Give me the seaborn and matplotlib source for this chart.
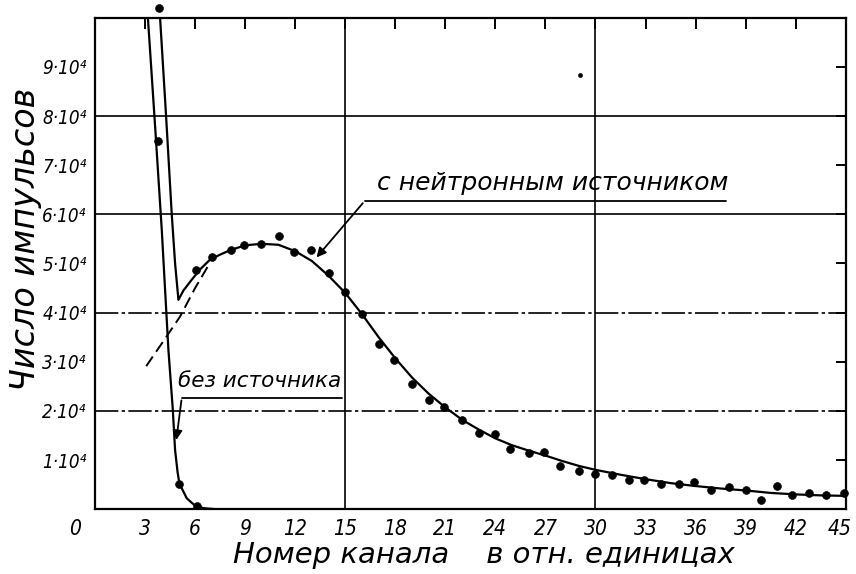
import matplotlib
matplotlib.use("Agg")
import matplotlib.pyplot as plt
import matplotlib.transforms as mtransforms
import seaborn as sns
import pandas as pd

# measured points, "с нейтронным источником" (y in units of 10^4 counts)
src_x = [3.84, 6.05, 7.01, 8.13, 8.94, 9.94, 11.0, 11.9, 12.97, 14.0, 15.0, 16.0, 17.0,
         17.95, 19.0, 20.0, 20.9, 22.0, 23.0, 24.0, 24.9, 26.0, 26.9, 27.9, 29.0, 30.0,
         31.0, 32.0, 32.9, 33.9, 35.0, 35.9, 36.9, 38.0, 39.0, 39.9, 40.9, 41.8, 42.8,
         43.8, 44.9]
src_y = [10.2, 4.86, 5.14, 5.28, 5.37, 5.40, 5.55, 5.23, 5.28, 4.80, 4.41, 3.97, 3.36,
         3.03, 2.54, 2.22, 2.07, 1.81, 1.55, 1.52, 1.23, 1.14, 1.16, 0.88, 0.77, 0.72,
         0.69, 0.60, 0.60, 0.52, 0.52, 0.55, 0.38, 0.46, 0.38, 0.19, 0.47, 0.28, 0.33,
         0.28, 0.33]

# drawn curve through them
src_curve_x = [3.9, 4.26, 4.6, 4.8, 5.0, 5.3, 5.8, 6.3, 6.9, 7.5, 8.1, 9.0, 10.0, 11.0,
               12.0, 13.0, 14.0, 15.0, 16.0, 17.0, 18.0, 19.0, 20.0, 21.0, 22.0, 23.0,
               24.0, 25.0, 26.0, 27.0, 28.0, 29.0, 30.0, 31.5, 33.0, 34.5, 36.0, 37.5,
               39.0, 40.5, 42.0, 43.5, 45.0]
src_curve_y = [10.0, 8.0, 6.0, 5.0, 4.26, 4.45, 4.67, 4.88, 5.08, 5.18, 5.27, 5.37, 5.40,
               5.38, 5.25, 5.05, 4.75, 4.40, 3.97, 3.50, 3.07, 2.68, 2.35, 2.07, 1.82,
               1.62, 1.44, 1.30, 1.19, 1.09, 0.98, 0.88, 0.80, 0.70, 0.61, 0.53, 0.47,
               0.42, 0.38, 0.33, 0.30, 0.28, 0.27]

# dashed extrapolation of the peak to the left
dash_x = [3.07, 4.08, 5.10, 6.0, 6.4, 6.9]
dash_y = [2.91, 3.41, 3.92, 4.50, 4.73, 5.02]

# "без источника"
bg_x = [3.78, 5.06, 6.1]
bg_y = [7.49, 0.52, 0.07]
bg_curve_x = [3.17, 3.6, 4.0, 4.4, 4.66, 4.80, 4.95, 5.06, 5.5, 6.0, 6.5, 7.2]
bg_curve_y = [10.0, 7.8, 5.69, 3.24, 2.04, 1.20, 0.75, 0.52, 0.22, 0.07, 0.02, 0.0]

# stray speck on the scan
speck_x = [29.1]
speck_y = [8.83]

SCALE = 1e4
xticks = list(range(0, 46, 3))
yticks = [i * SCALE for i in range(1, 10)]
ytick_labels = [f"{i}·10⁴" for i in range(1, 10)]

sns.set_style("white")
plt.rcParams["font.family"] = ["DejaVu Sans"]
plt.rcParams["font.style"] = "italic"
plt.rcParams["text.color"] = "black"
plt.rcParams["axes.labelcolor"] = "black"
plt.rcParams["xtick.color"] = "black"
plt.rcParams["ytick.color"] = "black"

fig = plt.figure(figsize=(8.56, 5.74), dpi=100)
ax = fig.add_axes([0.111, 0.113, 0.877, 0.856])

# grid lines of the paper
for yv, ls in [(2, (0, (14, 2, 2, 2))), (4, (0, (14, 2, 2, 2))), (6, "-"), (8, "-")]:
    ax.axhline(yv * SCALE, color="black", lw=1.2, ls=ls, zorder=1)
for xv in [15, 30]:
    ax.axvline(xv, color="black", lw=1.2, zorder=1)

src_curve = pd.DataFrame({"x": src_curve_x, "y": [v * SCALE for v in src_curve_y]})
bg_curve = pd.DataFrame({"x": bg_curve_x, "y": [v * SCALE for v in bg_curve_y]})
dash = pd.DataFrame({"x": dash_x, "y": [v * SCALE for v in dash_y]})

sns.lineplot(data=src_curve, x="x", y="y", color="black", lw=1.6, ax=ax, sort=False)
sns.lineplot(data=bg_curve, x="x", y="y", color="black", lw=1.6, ax=ax, sort=False)
ax.plot(dash["x"], dash["y"], color="black", lw=1.4, ls=(0, (6, 3)))

sns.scatterplot(x=src_x, y=[v * SCALE for v in src_y], color="black", s=32,
                edgecolor="black", ax=ax, zorder=5, clip_on=False)
sns.scatterplot(x=bg_x, y=[v * SCALE for v in bg_y], color="black", s=32,
                edgecolor="black", ax=ax, zorder=5)
sns.scatterplot(x=speck_x, y=[v * SCALE for v in speck_y], color="black", s=10,
                edgecolor="black", ax=ax, zorder=5)

ax.set_xlim(0, 45)
ax.set_ylim(0, 10 * SCALE)
ax.set_xticks(xticks)
ax.set_xticklabels([str(v) for v in xticks], fontsize=15, fontstretch="condensed")
ax.set_yticks(yticks)
ax.set_yticklabels(ytick_labels, fontsize=13.5, fontstretch="condensed")
ax.tick_params(axis="x", direction="in", length=8, width=1.4, top=True, pad=7)
ax.tick_params(axis="y", direction="in", length=7, width=1.4, right=True, pad=6)
for side in ax.spines.values():
    side.set_color("black")
    side.set_linewidth(1.6)

# the origin label sits to the left of the axis, the last one is pulled in a bit
labels = ax.get_xticklabels()
labels[0].set_transform(labels[0].get_transform()
                        + mtransforms.ScaledTranslation(-0.2, 0, fig.dpi_scale_trans))
labels[-1].set_transform(labels[-1].get_transform()
                         + mtransforms.ScaledTranslation(-0.06, 0, fig.dpi_scale_trans))

ax.set_xlabel("Номер канала    в отн. единицах", fontsize=21)
ax.xaxis.set_label_coords(0.518, -0.065)
ax.set_ylabel("Число импульсов", fontsize=24)
ax.yaxis.set_label_coords(-0.07, 0.55)

# labels with leaders
ax.text(4.98, 2.4 * SCALE, "без источника", fontsize=15.5, va="bottom", ha="left")
ax.plot([5.2, 14.8], [2.27 * SCALE, 2.27 * SCALE], color="black", lw=1.3)
ax.annotate("", xy=(4.85, 1.35 * SCALE), xytext=(5.2, 2.27 * SCALE),
            arrowprops=dict(arrowstyle="-|>", color="black", lw=1.3, mutation_scale=14))

ax.text(16.9, 6.4 * SCALE, "с нейтронным источником", fontsize=18, va="bottom", ha="left")
ax.plot([16.16, 37.85], [6.27 * SCALE, 6.27 * SCALE], color="black", lw=1.3)
ax.annotate("", xy=(13.17, 5.08 * SCALE), xytext=(16.16, 6.27 * SCALE),
            arrowprops=dict(arrowstyle="-|>", color="black", lw=1.3, mutation_scale=14))

fig.savefig("out.png", dpi=100)
